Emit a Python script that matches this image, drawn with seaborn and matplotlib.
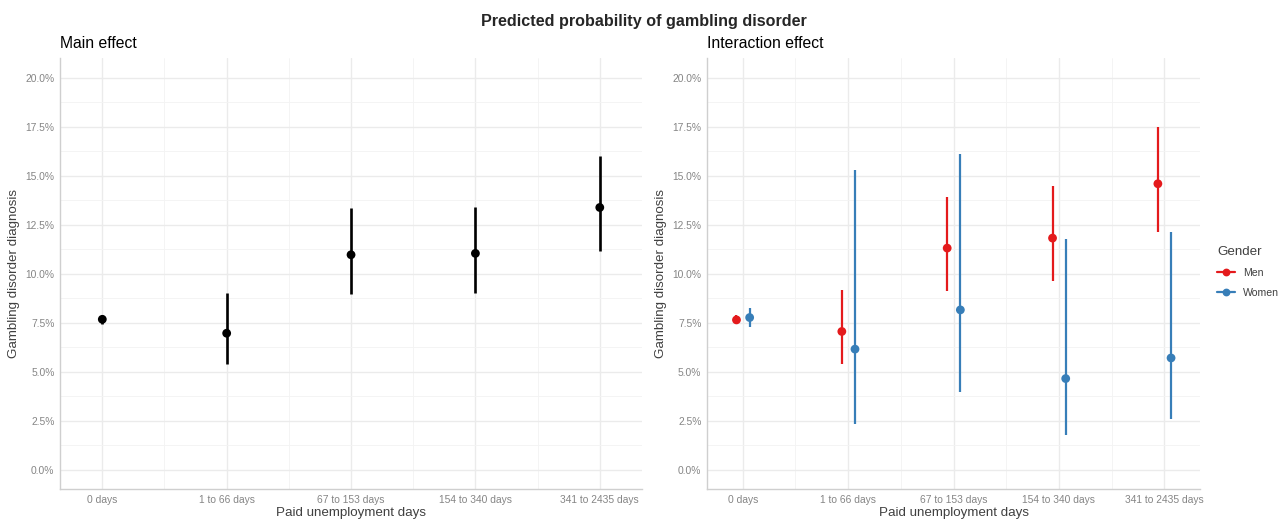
import pandas as pd
import matplotlib.pyplot as plt
import seaborn as sns
from matplotlib.lines import Line2D
from matplotlib.ticker import MultipleLocator, FuncFormatter

# Data (percent)
categories = ["0 days", "1 to 66 days", "67 to 153 days", "154 to 340 days", "341 to 2435 days"]

main_est = [7.68, 6.97, 10.97, 11.04, 13.38]
main_lo = [7.46, 5.39, 8.96, 9.01, 11.17]
main_hi = [7.90, 9.01, 13.35, 13.43, 15.99]

men_est = [7.65, 7.06, 11.31, 11.82, 14.59]
men_lo = [7.45, 5.39, 9.13, 9.61, 12.11]
men_hi = [7.88, 9.18, 13.91, 14.46, 17.47]

women_est = [7.77, 6.16, 8.16, 4.66, 5.71]
women_lo = [7.28, 2.35, 3.95, 1.77, 2.60]
women_hi = [8.25, 15.27, 16.12, 11.77, 12.14]

genders = ["Men", "Women"]
palette = {"Men": "#E41A1C", "Women": "#377EB8"}

sns.set_style("white")
plt.rcParams['font.family'] = ['Liberation Sans', 'DejaVu Sans']

main_df = pd.DataFrame({"days": categories, "est": main_est, "lo": main_lo, "hi": main_hi})
main_df["x"] = range(len(categories))

inter_df = pd.concat([
    pd.DataFrame({"days": categories, "gender": "Men", "est": men_est, "lo": men_lo, "hi": men_hi}),
    pd.DataFrame({"days": categories, "gender": "Women", "est": women_est, "lo": women_lo, "hi": women_hi}),
], ignore_index=True)
dodge = {"Men": -0.06, "Women": 0.065}
inter_df["x"] = inter_df["days"].map({c: i for i, c in enumerate(categories)}) + inter_df["gender"].map(dodge)

fig = plt.figure(figsize=(12.88, 5.21), dpi=100)
ax1 = fig.add_axes([0.0466, 0.0614, 0.4519, 0.8273])
ax2 = fig.add_axes([0.5489, 0.0614, 0.3828, 0.8273])

# main effect
ax1.vlines(main_df["x"], main_df["lo"], main_df["hi"], color="black", lw=1.9, zorder=2)
sns.scatterplot(data=main_df, x="x", y="est", color="black", s=40, edgecolor="none", ax=ax1, zorder=3)

# interaction effect
for g in genders:
    sub = inter_df[inter_df["gender"] == g]
    ax2.vlines(sub["x"], sub["lo"], sub["hi"], color=palette[g], lw=1.6, zorder=2)
sns.scatterplot(data=inter_df, x="x", y="est", hue="gender", palette=palette, s=40,
                edgecolor="none", legend=False, ax=ax2, zorder=3)

for ax, sub in [(ax1, "Main effect"), (ax2, "Interaction effect")]:
    ax.set_xlim(-0.34, 4.34)
    ax.set_ylim(-0.97, 21.0)
    ax.set_xticks(range(len(categories)))
    ax.set_xticklabels(categories)
    ax.xaxis.set_minor_locator(MultipleLocator(0.5))
    ax.yaxis.set_major_locator(MultipleLocator(2.5))
    ax.yaxis.set_minor_locator(MultipleLocator(1.25))
    ax.yaxis.set_major_formatter(FuncFormatter(lambda v, p: f"{v:.1f}%"))
    ax.grid(which="major", color="#EBEBEB", lw=1.0)
    ax.grid(which="minor", color="#F3F3F3", lw=0.6)
    ax.set_axisbelow(True)
    ax.tick_params(which="both", length=0, labelsize=7.4, labelcolor="#858585", pad=4)
    for s in ["top", "right"]:
        ax.spines[s].set_visible(False)
    for s in ["left", "bottom"]:
        ax.spines[s].set_color("#CFCFCF")
        ax.spines[s].set_linewidth(1.0)
    ax.set_xlabel("Paid unemployment days", fontsize=9.6, color="#404040", labelpad=2)
    ax.set_ylabel("Gambling disorder diagnosis", fontsize=9.6, color="#404040", labelpad=4)
    ax.set_title(sub, loc="left", fontsize=11.3, color="black", pad=7)

handles = [Line2D([0], [0], color=palette[g], lw=1.6, marker="o", markersize=4.6) for g in genders]
leg = fig.legend(handles, genders, title="Gender", loc="center left",
                 bbox_to_anchor=(1217 / 1288, 0.478), bbox_transform=fig.transFigure,
                 frameon=False, fontsize=7.6, title_fontsize=9.6, handlelength=1.75,
                 handletextpad=0.75, labelspacing=0.95, borderpad=0, borderaxespad=0)
leg._legend_box.align = "left"
leg.get_title().set_color("#404040")
for t in leg.get_texts():
    t.set_color("#404040")

fig.suptitle("Predicted probability of gambling disorder", fontsize=11.6, fontweight="bold", y=0.959, va="center")

fig.savefig("out.png", dpi=100)
